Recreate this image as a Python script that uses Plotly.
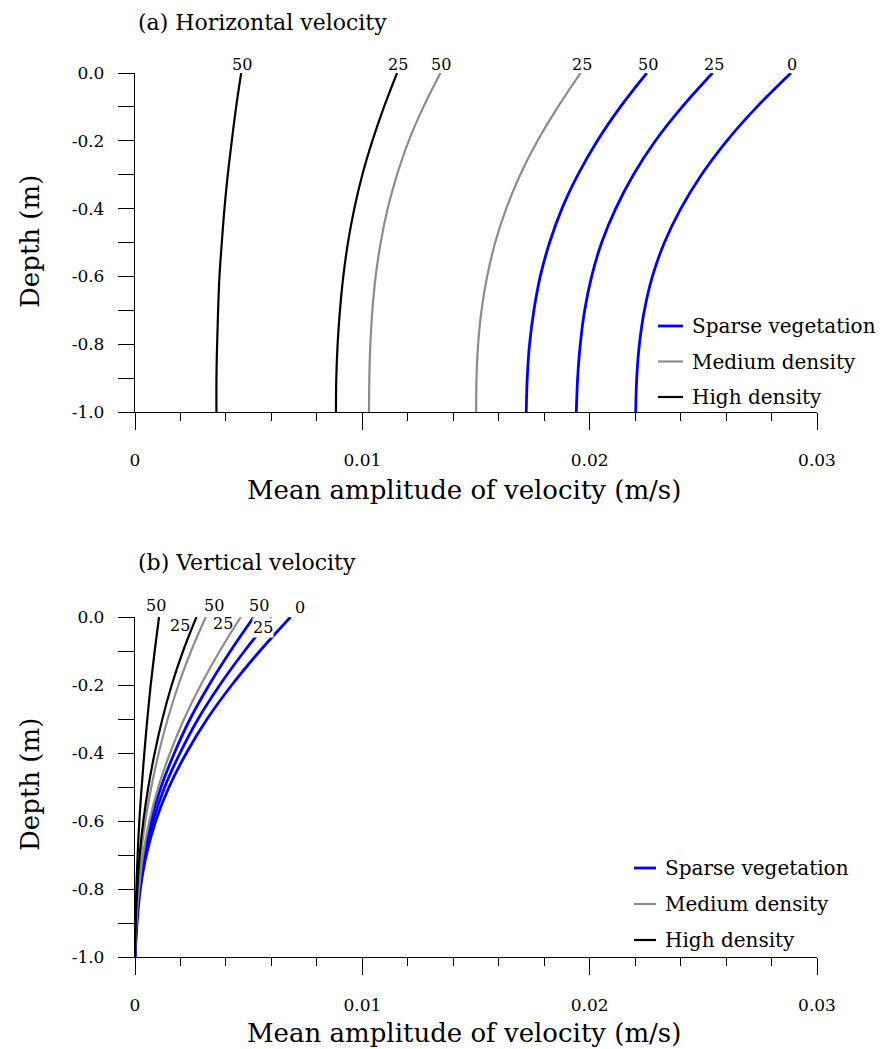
import plotly.graph_objects as go

# Depth levels (m)
depth = [0.0, -0.1, -0.2, -0.3, -0.4, -0.5, -0.6, -0.7, -0.8, -0.9, -1.0]

# (a) Horizontal velocity amplitude (m/s)
a_sparse_0 = [0.028855, 0.027357, 0.026035, 0.024919, 0.024009, 0.023289, 0.022761, 0.022408, 0.022188, 0.022070, 0.022026]
a_sparse_25 = [0.025404, 0.024068, 0.022893, 0.021924, 0.021145, 0.020529, 0.020088, 0.019780, 0.019589, 0.019471, 0.019413]
a_sparse_50 = [0.022511, 0.021351, 0.020338, 0.019486, 0.018781, 0.018238, 0.017827, 0.017548, 0.017357, 0.017254, 0.017210]
a_medium_25 = [0.019604, 0.018605, 0.017709, 0.016946, 0.016329, 0.015844, 0.015492, 0.015242, 0.015095, 0.015022, 0.015007]
a_medium_50 = [0.013436, 0.012687, 0.012041, 0.011527, 0.011116, 0.010808, 0.010587, 0.010441, 0.010352, 0.010308, 0.010294]
a_high_25 = [0.011527, 0.010954, 0.010441, 0.010000, 0.009648, 0.009369, 0.009163, 0.009016, 0.008913, 0.008855, 0.008840]
a_high_50 = [0.004670, 0.004449, 0.004258, 0.004082, 0.003935, 0.003818, 0.003715, 0.003656, 0.003612, 0.003583, 0.003583]

# (b) Vertical velocity amplitude (m/s)
b_sparse_0 = [0.006843, 0.005492, 0.004258, 0.003172, 0.002261, 0.001498, 0.000910, 0.000499, 0.000235, 0.000088, 0.0]
b_sparse_25 = [0.006006, 0.004816, 0.003730, 0.002775, 0.001982, 0.001307, 0.000793, 0.000426, 0.000191, 0.000073, 0.0]
b_sparse_50 = [0.005228, 0.004200, 0.003260, 0.002423, 0.001733, 0.001145, 0.000690, 0.000382, 0.000176, 0.000059, 0.0]
b_medium_25 = [0.004655, 0.003730, 0.002893, 0.002159, 0.001542, 0.001028, 0.000631, 0.000352, 0.000176, 0.000059, 0.0]
b_medium_50 = [0.003113, 0.002467, 0.001909, 0.001439, 0.001043, 0.000720, 0.000455, 0.000264, 0.000132, 0.000044, 0.0]
b_high_25 = [0.002702, 0.002115, 0.001615, 0.001204, 0.000866, 0.000587, 0.000367, 0.000206, 0.000103, 0.000029, 0.0]
b_high_50 = [0.001057, 0.000866, 0.000690, 0.000543, 0.000411, 0.000294, 0.000191, 0.000117, 0.000059, 0.000015, 0.0]

categories = ["Sparse vegetation", "Medium density", "High density"]
x_tick_vals = [0, 0.01, 0.02, 0.03]
x_tick_text = ["0", "0.01", "0.02", "0.03"]
y_tick_vals = [0.0, -0.2, -0.4, -0.6, -0.8, -1.0]
y_tick_text = ["0.0", "-0.2", "-0.4", "-0.6", "-0.8", "-1.0"]

FONT = "DejaVu Serif"
COL = {"Sparse vegetation": "#0000ff", "Medium density": "#8c8c8c", "High density": "#000000"}
WID = {"Sparse vegetation": 2.8, "Medium density": 2.2, "High density": 2.2}

series_a = [
    (a_sparse_0, "Sparse vegetation", "0"),
    (a_sparse_25, "Sparse vegetation", "25"),
    (a_sparse_50, "Sparse vegetation", "50"),
    (a_medium_25, "Medium density", "25"),
    (a_medium_50, "Medium density", "50"),
    (a_high_25, "High density", "25"),
    (a_high_50, "High density", "50"),
]
series_b = [
    (b_sparse_0, "Sparse vegetation", "0"),
    (b_sparse_25, "Sparse vegetation", "25"),
    (b_sparse_50, "Sparse vegetation", "50"),
    (b_medium_25, "Medium density", "25"),
    (b_medium_50, "Medium density", "50"),
    (b_high_25, "High density", "25"),
    (b_high_50, "High density", "50"),
]

fig = go.Figure()

def add_panel(series, xa, ya):
    for vals, cat, lab in series:
        fig.add_trace(go.Scatter(
            x=vals, y=depth, mode="lines", name=cat + " " + lab,
            line=dict(color=COL[cat], width=WID[cat], shape="spline", smoothing=1.0),
            xaxis=xa, yaxis=ya, showlegend=False, hoverinfo="skip",
        ))

add_panel(series_a, "x", "y")
add_panel(series_b, "x2", "y2")

W, H = 882, 1049
def px(x): return x / W
def py(y): return 1 - y / H

# curve labels
lab_font = dict(family=FONT, size=16, color="black")
ann = []
for vals, cat, lab in series_a:
    ann.append(dict(x=vals[0], y=0, xref="x", yref="y", text=lab, showarrow=False,
                    font=lab_font, xshift=1, yshift=8))
b_shift = {
    ("Sparse vegetation", "0"): (9, 10, None),
    ("Sparse vegetation", "25"): (-9, -10, "white"),
    ("Sparse vegetation", "50"): (5, 12, None),
    ("Medium density", "25"): (-18, -6, None),
    ("Medium density", "50"): (8, 12, None),
    ("High density", "25"): (-16, -8, None),
    ("High density", "50"): (-3, 12, None),
}
for vals, cat, lab in series_b:
    dx, dy, bg = b_shift[(cat, lab)]
    d = dict(x=vals[0], y=0, xref="x2", yref="y2", text=lab, showarrow=False,
             font=lab_font, xshift=dx, yshift=dy)
    if bg:
        d["bgcolor"] = bg
        d["borderpad"] = 0
    ann.append(d)

title_font = dict(family=FONT, size=22, color="black")
axis_font = dict(family=FONT, size=26, color="black")
ann += [
    dict(x=px(136), y=py(22), xref="paper", yref="paper", text="(a) Horizontal velocity",
         showarrow=False, xanchor="left", yanchor="middle", font=title_font),
    dict(x=px(136), y=py(562), xref="paper", yref="paper", text="(b) Vertical velocity",
         showarrow=False, xanchor="left", yanchor="middle", font=title_font),
    dict(x=px(30), y=py(242), xref="paper", yref="paper", text="Depth (m)", textangle=-90,
         showarrow=False, xanchor="center", yanchor="middle", font=axis_font),
    dict(x=px(30), y=py(785), xref="paper", yref="paper", text="Depth (m)", textangle=-90,
         showarrow=False, xanchor="center", yanchor="middle", font=axis_font),
    dict(x=px(464), y=py(490), xref="paper", yref="paper", text="Mean amplitude of velocity (m/s)",
         showarrow=False, xanchor="center", yanchor="middle", font=axis_font),
    dict(x=px(464), y=py(1033), xref="paper", yref="paper", text="Mean amplitude of velocity (m/s)",
         showarrow=False, xanchor="center", yanchor="middle", font=axis_font),
]

# legends (one per panel): short line sample + label
leg_font = dict(family=FONT, size=20, color="black")
shapes = []
legend_pos = [  # (line x0, line x1, text x, first row y, row step)
    (658, 683, 690, 326, 35.5),
    (634, 656, 663, 868, 36),
]
for lx0, lx1, tx, y0, step in legend_pos:
    for i, cat in enumerate(categories):
        yy = y0 + i * step
        shapes.append(dict(type="line", xref="paper", yref="paper",
                           x0=px(lx0), x1=px(lx1), y0=py(yy), y1=py(yy),
                           line=dict(color=COL[cat], width=WID[cat])))
        ann.append(dict(x=px(tx), y=py(yy), xref="paper", yref="paper", text=cat,
                        showarrow=False, xanchor="left", yanchor="middle", font=leg_font))

tick_font = dict(family=FONT, size=17, color="black")
xcommon = dict(range=[0, 0.03], tickmode="array", tickvals=x_tick_vals, ticktext=x_tick_text,
               ticks="outside", ticklen=17, tickwidth=1.3, tickcolor="black", automargin=False,
               showline=True, linecolor="black", linewidth=1.3, showgrid=False, zeroline=False,
               tickfont=tick_font, ticklabelstandoff=15,
               minor=dict(tickmode="linear", tick0=0, dtick=0.002, ticks="outside", ticklen=8,
                          tickwidth=1.3, tickcolor="black", showgrid=False))
ycommon = dict(range=[-1, 0], tickmode="array", tickvals=y_tick_vals, ticktext=y_tick_text,
               ticks="outside", ticklen=16, tickwidth=1.3, tickcolor="black", automargin=False,
               showline=True, linecolor="black", linewidth=1.3, showgrid=False, zeroline=False,
               tickfont=tick_font, ticklabelstandoff=10,
               minor=dict(tickmode="linear", tick0=0, dtick=0.1, ticks="outside", ticklen=16,
                          tickwidth=1.3, tickcolor="black", showgrid=False))

fig.update_layout(
    template="none",
    width=W, height=H, margin=dict(l=0, r=0, t=0, b=0, pad=0),
    paper_bgcolor="white", plot_bgcolor="white",
    xaxis=dict(domain=[px(135), px(817)], anchor="y", **xcommon),
    yaxis=dict(domain=[py(412), py(73)], anchor="x", **ycommon),
    xaxis2=dict(domain=[px(135), px(817)], anchor="y2", **xcommon),
    yaxis2=dict(domain=[py(957), py(617)], anchor="x2", **ycommon),
    annotations=ann,
    shapes=shapes,
    showlegend=False,
)

fig.write_html("out.html")
